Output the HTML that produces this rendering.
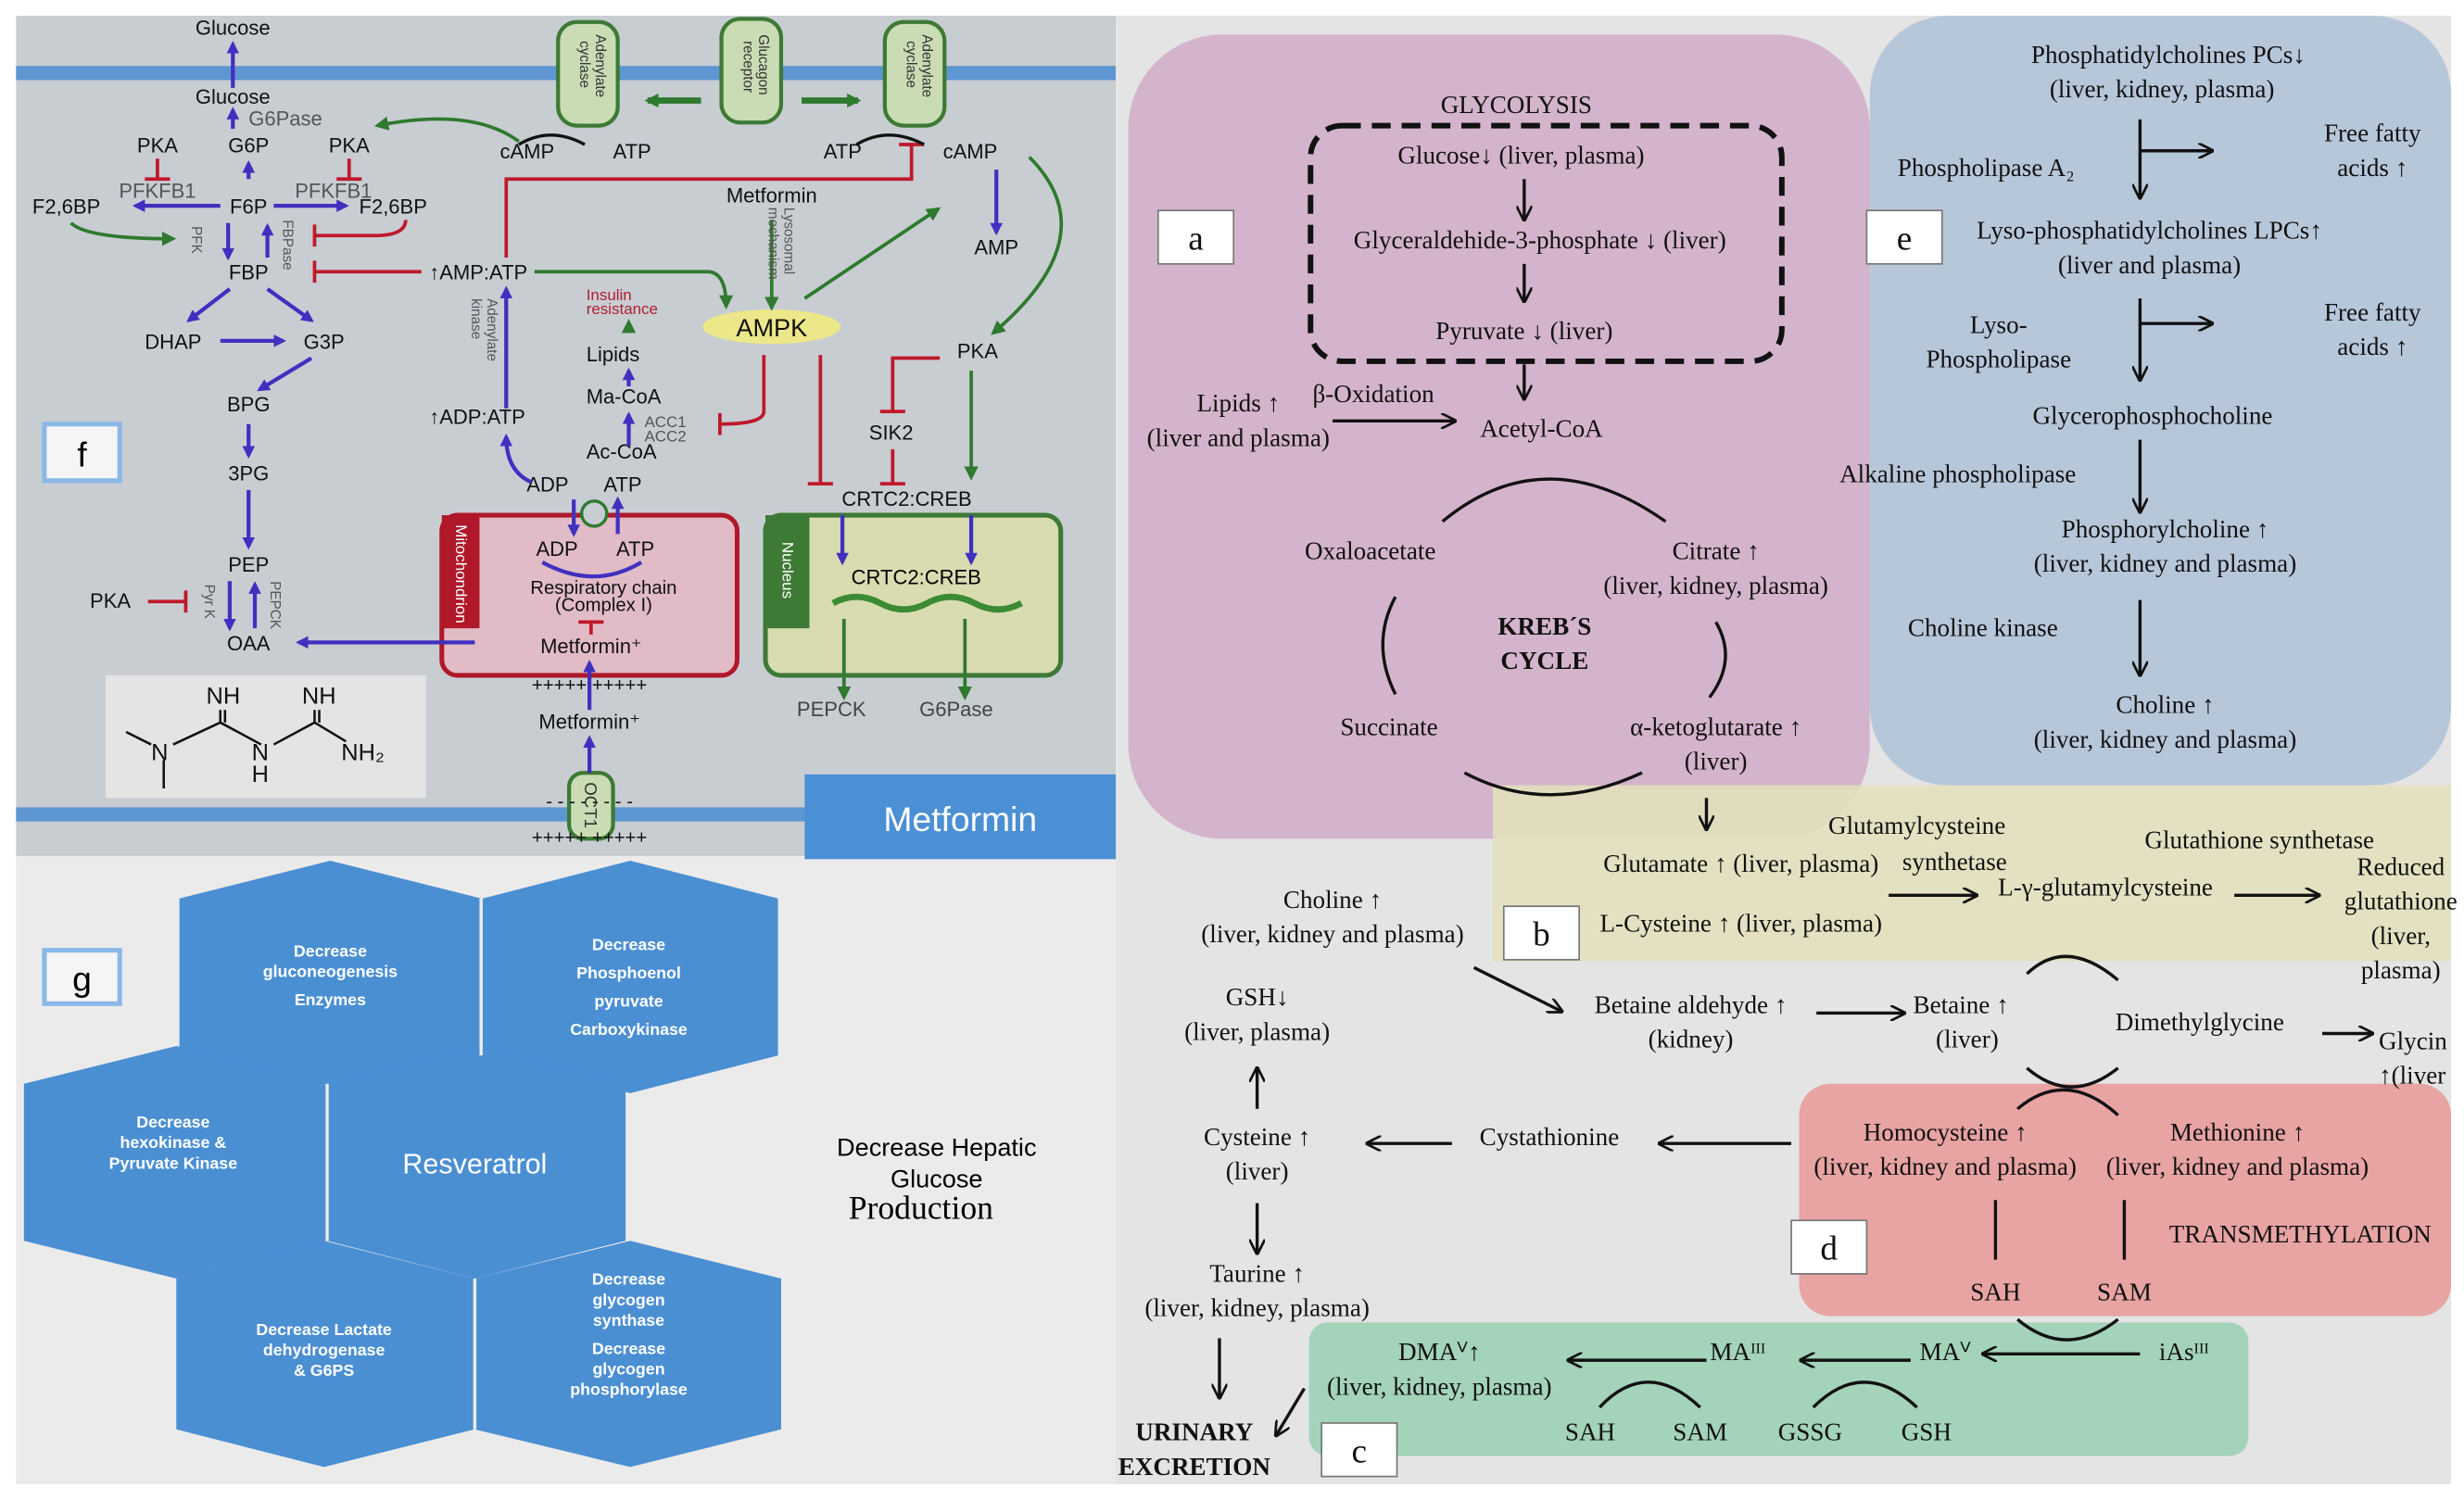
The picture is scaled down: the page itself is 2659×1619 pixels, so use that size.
<!DOCTYPE html>
<html><head><meta charset="utf-8"><style>
html,body{margin:0;padding:0;background:#fff}
svg{display:block}
.s{font-family:"Liberation Sans",sans-serif}
.r{font-family:"Liberation Serif",serif}
</style></head><body>
<svg width="2659" height="1619" viewBox="0 0 1568 955" xmlns="http://www.w3.org/2000/svg">
<defs>
<marker id="bl" markerWidth="8" markerHeight="8" refX="6" refY="4" orient="auto" markerUnits="userSpaceOnUse"><path d="M0,0 L8,4 L0,8z" fill="#4030c0"/></marker>
<marker id="gr" markerWidth="9" markerHeight="9" refX="7" refY="4.5" orient="auto" markerUnits="userSpaceOnUse"><path d="M0,0 L9,4.5 L0,9z" fill="#2e7a2e"/></marker>
<marker id="bk" markerWidth="10" markerHeight="10" refX="9" refY="5" orient="auto" markerUnits="userSpaceOnUse"><path d="M0,0 L10,5 L0,10" fill="none" stroke="#111" stroke-width="1.6"/></marker>
</defs>
<rect width="1568" height="955" fill="#fff"/>
<rect x="10" y="10" width="700" height="535" fill="#c8cdd2"/>
<rect x="10" y="42" width="700" height="9" fill="#5d96d2"/>
<rect x="10" y="514" width="700" height="9" fill="#5d96d2"/>
<rect x="10" y="545" width="700" height="400" fill="#ebebeb"/>
<rect x="710" y="10" width="850" height="935" fill="#e4e4e4"/>
<rect x="718" y="22" width="472" height="512" rx="60" fill="#d4b4cc"/>
<rect x="1190" y="10" width="370" height="490" rx="50" fill="#b7c7da"/>
<rect x="950" y="500" width="610" height="112" fill="#e2e0bd" opacity="0.9"/>
<rect x="1145" y="690" width="415" height="148" rx="20" fill="#e8a3a3"/>
<rect x="833" y="842" width="598" height="85" rx="12" fill="#a3d3b9"/>

<g class="s" font-size="13" fill="#111">
<text x="148" y="22" text-anchor="middle">Glucose</text>
<text x="148" y="66" text-anchor="middle">Glucose</text>
<text x="158" y="80" fill="#555">G6Pase</text>
<text x="158" y="97" text-anchor="middle">G6P</text>
<text x="100" y="97" text-anchor="middle">PKA</text>
<text x="222" y="97" text-anchor="middle">PKA</text>
<text x="100" y="126" text-anchor="middle" fill="#555">PFKFB1</text>
<text x="212" y="126" text-anchor="middle" fill="#555">PFKFB1</text>
<text x="42" y="136" text-anchor="middle">F2,6BP</text>
<text x="158" y="136" text-anchor="middle">F6P</text>
<text x="250" y="136" text-anchor="middle">F2,6BP</text>
<text x="158" y="178" text-anchor="middle">FBP</text>
<text x="110" y="222" text-anchor="middle">DHAP</text>
<text x="206" y="222" text-anchor="middle">G3P</text>
<text x="158" y="262" text-anchor="middle">BPG</text>
<text x="158" y="306" text-anchor="middle">3PG</text>
<text x="158" y="364" text-anchor="middle">PEP</text>
<text x="70" y="387" text-anchor="middle">PKA</text>
<text x="158" y="414" text-anchor="middle">OAA</text>
<text x="318" y="101">cAMP</text><text x="390" y="101">ATP</text>
<text x="524" y="101">ATP</text><text x="600" y="101">cAMP</text>
<text x="491" y="129" text-anchor="middle">Metformin</text>
<text x="634" y="162" text-anchor="middle">AMP</text>
<text x="273" y="178">↑AMP:ATP</text>
<text x="273" y="270">↑ADP:ATP</text>
<text x="373" y="230">Lipids</text>
<text x="373" y="257">Ma-CoA</text>
<text x="373" y="292">Ac-CoA</text>
<text x="410" y="272" font-size="10" fill="#555">ACC1</text>
<text x="410" y="281" font-size="10" fill="#555">ACC2</text>
<text x="373" y="191" font-size="10" fill="#b02030">Insulin</text>
<text x="373" y="200" font-size="10" fill="#b02030">resistance</text>
<ellipse cx="491" cy="208" rx="44" ry="11" fill="#ece88a"/>
<text x="491" y="214" text-anchor="middle" font-size="16">AMPK</text>
<text x="622" y="228" text-anchor="middle">PKA</text>
<text x="567" y="280" text-anchor="middle">SIK2</text>
<text x="577" y="322" text-anchor="middle">CRTC2:CREB</text>
<text x="335" y="313">ADP</text><text x="384" y="313">ATP</text>
<text x="507" y="456" fill="#444">PEPCK</text><text x="585" y="456" fill="#444">G6Pase</text>
<text x="375" y="464" text-anchor="middle">Metformin⁺</text>
</g>
<g fill="#c9dcb4" stroke="#3d7a35" stroke-width="2.5">
<rect x="355" y="14" width="38" height="66" rx="12"/>
<rect x="459" y="12" width="38" height="66" rx="12"/>
<rect x="563" y="14" width="38" height="66" rx="12"/>
<rect x="362" y="492" width="28" height="42" rx="9"/>
</g>
<g class="s" font-size="9" fill="#333">
<text transform="translate(379,22) rotate(90)">Adenylate</text><text transform="translate(369,26) rotate(90)">cyclase</text>
<text transform="translate(483,22) rotate(90)">Glucagon</text><text transform="translate(473,26) rotate(90)">receptor</text>
<text transform="translate(587,22) rotate(90)">Adenylate</text><text transform="translate(577,26) rotate(90)">cyclase</text>
<text transform="translate(372,498) rotate(90)" font-size="11">OCT1</text>
</g>
<path d="M446,64 L412,64" stroke="#2e7a2e" stroke-width="4" marker-end="url(#gr)"/>
<path d="M510,64 L546,64" stroke="#2e7a2e" stroke-width="4" marker-end="url(#gr)"/>
<rect x="281" y="328" width="188" height="102" rx="10" fill="#e1bcc6" stroke="#b0182a" stroke-width="3"/>
<rect x="281" y="328" width="24" height="72" fill="#b0182a"/>
<text class="s" transform="translate(290,334) rotate(90)" font-size="10" fill="#fff">Mitochondrion</text>
<g class="s" font-size="13" fill="#111">
<text x="341" y="354">ADP</text><text x="392" y="354">ATP</text>
<text x="384" y="378" text-anchor="middle" font-size="12">Respiratory chain</text>
<text x="384" y="389" text-anchor="middle" font-size="12">(Complex I)</text>
<text x="376" y="416" text-anchor="middle">Metformin⁺</text>
<text x="375" y="440" text-anchor="middle" font-size="12">+++++   +++++</text>
<text x="375" y="537" text-anchor="middle" font-size="12">+++++        +++++</text>
<text x="375" y="514" text-anchor="middle" font-size="12">- - - -          - - - -</text>
</g>
<circle cx="378" cy="327" r="8" fill="#c8cdd2" stroke="#2e7a2e" stroke-width="2"/>
<rect x="487" y="328" width="188" height="102" rx="10" fill="#d9dcb0" stroke="#3d7a35" stroke-width="3"/>
<rect x="487" y="328" width="28" height="72" fill="#3d7a35"/>
<text class="s" transform="translate(498,345) rotate(90)" font-size="10" fill="#fff">Nucleus</text>
<text class="s" x="583" y="372" text-anchor="middle" font-size="13">CRTC2:CREB</text>
<path d="M530,384 Q545,376 560,384 T590,384 T620,384 T650,384" stroke="#3d8a35" stroke-width="4" fill="none"/>
<g stroke="#4030c0" stroke-width="2.5" fill="none" marker-end="url(#bl)">
<path d="M148,56 L148,28"/><path d="M148,82 L148,70"/>
<path d="M158,114 L158,104"/><path d="M174,131 L220,131"/><path d="M140,131 L86,131"/>
<path d="M145,142 L145,164"/><path d="M170,164 L170,144"/>
<path d="M146,184 L120,204"/><path d="M170,184 L198,204"/><path d="M140,217 L180,217"/>
<path d="M198,228 L165,248"/><path d="M158,270 L158,290"/><path d="M158,312 L158,348"/>
<path d="M146,370 L146,400"/><path d="M162,400 L162,372"/>
<path d="M302,409 L190,409"/>
<path d="M322,260 L322,184"/><path d="M338,307 Q322,300 322,278"/>
<path d="M365,318 L365,340"/><path d="M393,340 L393,318"/>
<path d="M375,452 L375,422"/><path d="M375,492 L375,470"/>
<path d="M400,284 L400,264"/><path d="M400,246 L400,236"/>
<path d="M634,108 L634,148"/><path d="M536,328 L536,358"/><path d="M618,328 L618,358"/>
</g>
<g stroke="#2e7a2e" stroke-width="2.2" fill="none" marker-end="url(#gr)">
<path d="M330,90 Q300,68 240,80"/>
<path d="M45,142 Q55,152 110,152"/>
<path d="M340,173 L450,173 Q462,173 462,195"/>
<path d="M491,140 L491,196"/><path d="M512,190 L597,133"/>
<path d="M655,100 Q705,150 632,212"/>
<path d="M618,236 L618,304"/>
<path d="M537,394 L537,444"/><path d="M614,394 L614,444"/>
<path d="M400,212 L400,205"/>
</g>
<g stroke="#c0182a" stroke-width="2.2" fill="none">
<path d="M100,101 L100,114 M92,114 L108,114"/><path d="M222,101 L222,114 M214,114 L230,114"/>
<path d="M258,140 Q258,150 238,150 L200,150 M200,143 L200,157"/>
<path d="M268,173 L200,173 M200,166 L200,180"/>
<path d="M322,164 L322,114 L580,114 L580,92 M572,92 L588,92"/>
<path d="M486,226 L486,262 Q486,270 458,270 M458,263 L458,277"/>
<path d="M522,226 L522,308 M514,308 L530,308"/>
<path d="M598,228 L568,228 L568,262 M560,262 L576,262"/>
<path d="M568,286 L568,308 M560,308 L576,308"/>
<path d="M94,383 L118,383 M118,376 L118,390"/>
<path d="M376,404 L376,396 M368,396 L384,396"/>
</g>
<path d="M330,92 Q350,80 372,92" stroke="#111" stroke-width="2" fill="none"/>
<path d="M545,92 Q565,80 588,92" stroke="#111" stroke-width="2" fill="none"/>
<path d="M345,358 Q378,376 408,358" stroke="#4030c0" stroke-width="2.5" fill="none"/>
<g class="s" font-size="9" fill="#555">
<text transform="translate(122,144) rotate(90)">PFK</text>
<text transform="translate(180,140) rotate(90)">FBPase</text>
<text transform="translate(130,372) rotate(90)">Pyr K</text>
<text transform="translate(172,370) rotate(90)">PEPCK</text>
<text transform="translate(499,132) rotate(90)">Lysosomal</text>
<text transform="translate(489,132) rotate(90)">mechanism</text>
<text transform="translate(310,190) rotate(90)">Adenylate</text>
<text transform="translate(300,190) rotate(90)">kinase</text>
</g>
<rect x="67" y="430" width="204" height="78" fill="#e4e4e4"/>
<g class="s" font-size="15" fill="#111">
<text x="131" y="448">NH</text><text x="192" y="448">NH</text>
<text x="96" y="484">N</text><text x="160" y="484">N</text><text x="160" y="498">H</text><text x="217" y="484">NH₂</text>
</g>
<path d="M80,466 L96,474 M104,484 L104,502 M110,474 L140,460 L166,474 M174,474 L200,460 L220,472 M140,452 L140,460 M200,452 L200,460 M143,452 L143,460 M203,452 L203,460" stroke="#111" stroke-width="1.5" fill="none"/>
<rect x="28" y="270" width="48" height="36" fill="#f5f5f5" stroke="#8ab8e8" stroke-width="3"/>
<text class="s" x="52" y="297" font-size="22" text-anchor="middle">f</text>
<rect x="512" y="493" width="198" height="54" fill="#4b8fd5"/>
<text class="s" x="611" y="529" text-anchor="middle" font-size="22" fill="#fff">Metformin</text>

<g fill="#4b8fd3">
<polygon points="114,572 210,548 306,572 306,672 210,696 114,672"/>
<polygon points="307,572 401,548 495,572 495,672 401,696 307,672"/>
<polygon points="15,690 112,666 208,690 208,790 112,814 15,790"/>
<polygon points="208,690 302,666 398,690 398,790 302,814 208,790"/>
<polygon points="112,814 206,790 302,814 302,910 206,934 112,910"/>
<polygon points="302,814 401,790 497,814 497,910 401,934 302,910"/>
</g>
<g stroke="#ebebeb" stroke-width="2" fill="none"><path d="M208,690 L208,790 M302,814 L302,910 M306,572 L306,672"/></g>
<g class="s" font-size="10.5" fill="#fff" text-anchor="middle" font-weight="bold">
<text x="210" y="609">Decrease</text><text x="210" y="622">gluconeogenesis</text><text x="210" y="640">Enzymes</text>
<text x="400" y="605">Decrease</text><text x="400" y="623">Phosphoenol</text><text x="400" y="641">pyruvate</text><text x="400" y="659">Carboxykinase</text>
<text x="110" y="718">Decrease</text><text x="110" y="731">hexokinase &amp;</text><text x="110" y="744">Pyruvate Kinase</text>
<text x="302" y="747" font-size="18" font-weight="normal">Resveratrol</text>
<text x="206" y="850">Decrease Lactate</text><text x="206" y="863">dehydrogenase</text><text x="206" y="876">&amp; G6PS</text>
<text x="400" y="818">Decrease</text><text x="400" y="831">glycogen</text><text x="400" y="844">synthase</text><text x="400" y="862">Decrease</text><text x="400" y="875">glycogen</text><text x="400" y="888">phosphorylase</text>
</g>
<rect x="28" y="605" width="48" height="34" fill="#f5f5f5" stroke="#8ab8e8" stroke-width="3"/>
<text class="s" x="52" y="631" font-size="22" text-anchor="middle">g</text>
<text class="s" x="596" y="736" font-size="16" text-anchor="middle">Decrease Hepatic</text>
<text class="s" x="596" y="756" font-size="16" text-anchor="middle">Glucose</text>
<text class="r" x="586" y="776" font-size="21" text-anchor="middle">Production</text>

<rect x="834" y="80" width="300" height="150" rx="20" fill="none" stroke="#111" stroke-width="3.5" stroke-dasharray="12,7"/>
<g class="r" font-size="16" fill="#111">
<text x="965" y="72" text-anchor="middle">GLYCOLYSIS</text>
<text x="968" y="104" text-anchor="middle">Glucose↓ (liver, plasma)</text>
<text x="980" y="158" text-anchor="middle">Glyceraldehide-3-phosphate ↓ (liver)</text>
<text x="970" y="216" text-anchor="middle">Pyruvate ↓ (liver)</text>
<text x="788" y="262" text-anchor="middle">Lipids ↑</text><text x="788" y="284" text-anchor="middle">(liver and plasma)</text>
<text x="874" y="256" text-anchor="middle">β-Oxidation</text>
<text x="981" y="278" text-anchor="middle">Acetyl-CoA</text>
<text x="872" y="356" text-anchor="middle">Oxaloacetate</text>
<text x="1092" y="356" text-anchor="middle">Citrate ↑</text><text x="1092" y="378" text-anchor="middle">(liver, kidney, plasma)</text>
<text x="983" y="404" text-anchor="middle" font-weight="bold">KREB´S</text><text x="983" y="426" text-anchor="middle" font-weight="bold">CYCLE</text>
<text x="884" y="468" text-anchor="middle">Succinate</text>
<text x="1092" y="468" text-anchor="middle">α-ketoglutarate ↑</text><text x="1092" y="490" text-anchor="middle">(liver)</text>
<text x="1380" y="40" text-anchor="middle">Phosphatidylcholines PCs↓</text><text x="1376" y="62" text-anchor="middle">(liver, kidney, plasma)</text>
<text x="1264" y="112" text-anchor="middle">Phospholipase A₂</text>
<text x="1510" y="90" text-anchor="middle">Free fatty</text><text x="1510" y="112" text-anchor="middle">acids ↑</text>
<text x="1368" y="152" text-anchor="middle">Lyso-phosphatidylcholines LPCs↑</text><text x="1368" y="174" text-anchor="middle">(liver and plasma)</text>
<text x="1272" y="212" text-anchor="middle">Lyso-</text><text x="1272" y="234" text-anchor="middle">Phospholipase</text>
<text x="1510" y="204" text-anchor="middle">Free fatty</text><text x="1510" y="226" text-anchor="middle">acids ↑</text>
<text x="1370" y="270" text-anchor="middle">Glycerophosphocholine</text>
<text x="1246" y="307" text-anchor="middle">Alkaline phospholipase</text>
<text x="1378" y="342" text-anchor="middle">Phosphorylcholine ↑</text><text x="1378" y="364" text-anchor="middle">(liver, kidney and plasma)</text>
<text x="1262" y="405" text-anchor="middle">Choline kinase</text>
<text x="1378" y="454" text-anchor="middle">Choline ↑</text><text x="1378" y="476" text-anchor="middle">(liver, kidney and plasma)</text>
<text x="1108" y="555" text-anchor="middle">Glutamate ↑ (liver, plasma)</text>
<text x="1220" y="531" text-anchor="middle">Glutamylcysteine</text><text x="1244" y="554" text-anchor="middle">synthetase</text>
<text x="1438" y="540" text-anchor="middle">Glutathione synthetase</text>
<text x="1340" y="570" text-anchor="middle">L-γ-glutamylcysteine</text>
<text x="1528" y="557" text-anchor="middle">Reduced</text><text x="1528" y="579" text-anchor="middle">glutathione</text><text x="1528" y="601" text-anchor="middle">(liver,</text><text x="1528" y="623" text-anchor="middle">plasma)</text>
<text x="1108" y="593" text-anchor="middle">L-Cysteine ↑ (liver, plasma)</text>
<text x="848" y="578" text-anchor="middle">Choline ↑</text><text x="848" y="600" text-anchor="middle">(liver, kidney and plasma)</text>
<text x="1076" y="645" text-anchor="middle">Betaine aldehyde ↑</text><text x="1076" y="667" text-anchor="middle">(kidney)</text>
<text x="1248" y="645" text-anchor="middle">Betaine ↑</text><text x="1252" y="667" text-anchor="middle">(liver)</text>
<text x="1400" y="656" text-anchor="middle">Dimethylglycine</text>
<text x="1514" y="668">Glycin</text><text x="1514" y="690">↑(liver</text>
<text x="800" y="640" text-anchor="middle">GSH↓</text><text x="800" y="662" text-anchor="middle">(liver, plasma)</text>
<text x="800" y="729" text-anchor="middle">Cysteine ↑</text><text x="800" y="751" text-anchor="middle">(liver)</text>
<text x="986" y="729" text-anchor="middle">Cystathionine</text>
<text x="1238" y="726" text-anchor="middle">Homocysteine ↑</text><text x="1238" y="748" text-anchor="middle">(liver, kidney and plasma)</text>
<text x="1424" y="726" text-anchor="middle">Methionine ↑</text><text x="1424" y="748" text-anchor="middle">(liver, kidney and plasma)</text>
<text x="1464" y="791" text-anchor="middle">TRANSMETHYLATION</text>
<text x="1270" y="828" text-anchor="middle">SAH</text><text x="1352" y="828" text-anchor="middle">SAM</text>
<text x="800" y="816" text-anchor="middle">Taurine ↑</text><text x="800" y="838" text-anchor="middle">(liver, kidney, plasma)</text>
<text x="916" y="866" text-anchor="middle">DMAⱽ↑</text><text x="916" y="888" text-anchor="middle">(liver, kidney, plasma)</text>
<text x="1106" y="866" text-anchor="middle">MAᴵᴵᴵ</text><text x="1238" y="866" text-anchor="middle">MAⱽ</text><text x="1390" y="866" text-anchor="middle">iAsᴵᴵᴵ</text>
<text x="1012" y="917" text-anchor="middle">SAH</text><text x="1082" y="917" text-anchor="middle">SAM</text><text x="1152" y="917" text-anchor="middle">GSSG</text><text x="1226" y="917" text-anchor="middle">GSH</text>
<text x="760" y="917" text-anchor="middle" font-weight="bold">URINARY</text><text x="760" y="939" text-anchor="middle" font-weight="bold">EXCRETION</text>
</g>
<g fill="#fff" stroke="#777" stroke-width="1">
<rect x="737" y="134" width="48" height="34"/><rect x="1188" y="134" width="48" height="34"/>
<rect x="957" y="577" width="48" height="34"/><rect x="1140" y="777" width="48" height="34"/><rect x="841" y="906" width="48" height="34"/>
</g>
<g class="r" font-size="22" fill="#111" text-anchor="middle">
<text x="761" y="159">a</text><text x="1212" y="159">e</text><text x="981" y="602">b</text><text x="1164" y="802">d</text><text x="865" y="931">c</text>
</g>
<g stroke="#111" stroke-width="2" fill="none" marker-end="url(#bk)">
<path d="M970,114 L970,140"/><path d="M970,168 L970,192"/><path d="M970,232 L970,254"/>
<path d="M848,268 L926,268"/>
<path d="M1362,76 L1362,126"/><path d="M1362,96 L1408,96"/>
<path d="M1362,190 L1362,242"/><path d="M1362,206 L1408,206"/>
<path d="M1362,280 L1362,326"/><path d="M1362,382 L1362,430"/>
<path d="M1086,508 L1086,528"/>
<path d="M1202,570 L1258,570"/><path d="M1422,570 L1476,570"/>
<path d="M938,616 L994,644"/><path d="M1156,645 L1212,645"/><path d="M1478,658 L1510,658"/>
<path d="M1140,728 L1056,728"/><path d="M924,728 L870,728"/>
<path d="M800,706 L800,680"/><path d="M800,766 L800,798"/>
<path d="M776,852 L776,890"/><path d="M830,884 L812,914"/>
<path d="M1086,866 L998,866"/><path d="M1216,866 L1146,866"/><path d="M1362,862 L1262,862"/>
</g>
<g stroke="#111" stroke-width="2" fill="none">
<path d="M918,332 Q983,278 1060,332"/><path d="M888,380 Q872,410 888,442"/><path d="M1092,396 Q1106,420 1088,444"/>
<path d="M932,492 Q985,520 1045,492"/>
<path d="M1290,620 Q1315,596 1348,624"/><path d="M1290,680 Q1318,704 1348,680"/>
<path d="M1284,706 Q1315,680 1348,710"/><path d="M1284,840 Q1315,866 1348,840"/>
<path d="M1270,764 L1270,802"/><path d="M1352,764 L1352,802"/>
<path d="M1018,896 Q1048,864 1082,896"/><path d="M1154,896 Q1186,864 1220,896"/>
</g>
</svg>
</body></html>
